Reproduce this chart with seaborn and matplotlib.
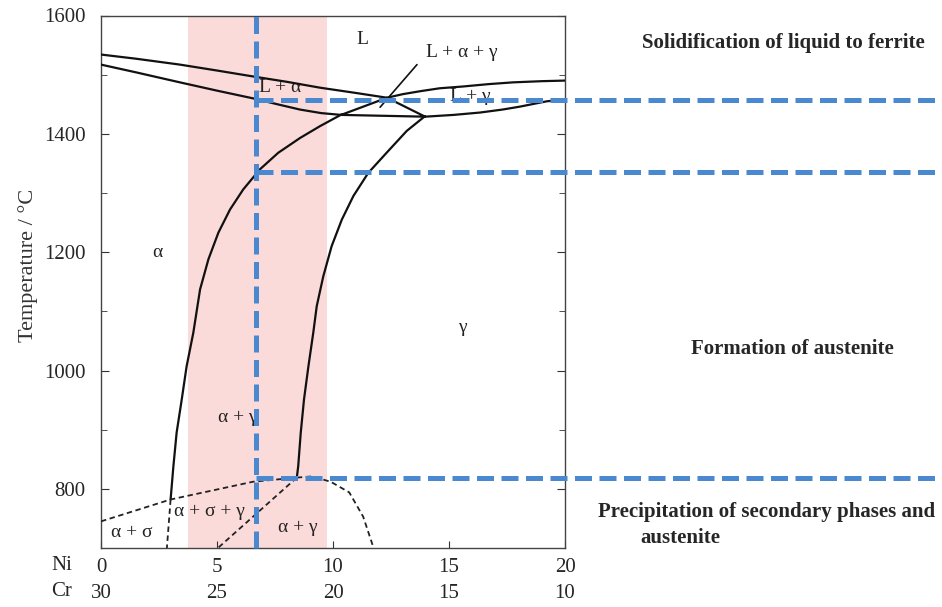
import matplotlib
matplotlib.use("Agg")
import matplotlib.pyplot as plt
import seaborn as sns
import pandas as pd

sns.set_style("ticks")
plt.rcParams['font.family'] = ['Liberation Serif', 'DejaVu Serif']

# ---------------- data (Ni wt%, Temperature degC) ----------------
ni_ticks = [0, 5, 10, 15, 20]
cr_ticks = [30, 25, 20, 15, 10]
y_ticks = [800, 1000, 1200, 1400, 1600]

# liquidus of alpha
liq_a_ni = [0.0, 1.5, 3.4, 5.0, 6.55, 8.0, 9.44, 11.0, 12.33]
liq_a_t = [1534, 1527, 1517, 1507, 1497, 1488, 1478, 1469, 1461]
# solidus of alpha
sol_a_ni = [0.0, 1.5, 3.4, 5.0, 6.55, 7.6, 8.58, 9.5, 10.35]
sol_a_t = [1517, 1504, 1487, 1473, 1460, 1450, 1441, 1435, 1432]
# liquidus of gamma
liq_g_ni = [12.33, 13.0, 13.75, 14.6, 15.6, 16.7, 17.76, 19.0, 20.0]
liq_g_t = [1461, 1467, 1472, 1477, 1480, 1484, 1487, 1489, 1490]
# solidus of gamma
sol_g_ni = [13.97, 15.2, 16.34, 17.3, 18.06, 18.7, 19.22, 20.0]
sol_g_t = [1429, 1432, 1436, 1441, 1446, 1451, 1455, 1458]
# three-phase triangle L+alpha+gamma
tri_ni = [10.35, 12.33, 13.97, 10.35]
tri_t = [1432, 1461, 1429, 1432]
# alpha / alpha+gamma boundary
solv_a_ni = [10.38, 9.44, 8.58, 7.64, 6.85, 6.13, 5.56, 5.06, 4.63, 4.27,
             3.98, 3.69, 3.48, 3.26, 3.12, 3.00]
solv_a_t = [1433, 1413, 1393, 1368, 1340, 1306, 1272, 1233, 1188, 1137,
            1064, 1007, 951, 895, 838, 782]
# gamma / alpha+gamma boundary
solv_g_ni = [13.97, 13.18, 12.31, 11.52, 10.88, 10.38, 9.94, 9.58, 9.30, 9.15,
             8.94, 8.75, 8.61, 8.50, 8.44]
solv_g_t = [1430, 1405, 1368, 1334, 1295, 1255, 1210, 1159, 1109, 1064,
            1007, 951, 895, 838, 819]
# sigma-related (dashed)
sig_top_ni = [0.0, 3.0, 6.55, 8.44]
sig_top_t = [745, 782, 812, 819]
sig_dome_ni = [8.44, 9.1, 9.9, 10.7, 11.3, 11.75]
sig_dome_t = [819, 821, 812, 794, 753, 700]
sig_left_ni = [3.0, 2.84]
sig_left_t = [782, 700]
sig_diag_ni = [8.44, 5.04]
sig_diag_t = [819, 700]

# highlighted composition window and process markers
band_ni = [3.76, 9.73]
marker_ni = 6.70
marker_t = [1458, 1335, 818]

region_labels = ["L", "L + α + γ", "L + α", "L + γ", "α", "γ",
                 "α + γ", "α + σ + γ", "α + σ", "α + γ"]
region_ni = [11.25, 15.56, 7.72, 15.9, 2.41, 15.56, 5.9, 4.66, 1.34, 8.49]
region_t = [1559, 1537, 1478, 1463, 1199, 1073, 921, 762, 726, 735]

stage_texts = ["Solidification of liquid to ferrite", "Formation of austenite",
               "Precipitation of secondary phases and", "austenite"]

# ---------------- figure ----------------
fig = plt.figure(figsize=(9.42, 6.07), dpi=100)
ax = fig.add_axes([101/942, 1 - 548/607, 464/942, 532.5/607])
ax.set_xlim(0, 20)
ax.set_ylim(700, 1600)

ax.axvspan(band_ni[0], band_ni[1], color="#fbdada", zorder=0, lw=0)

def curve(xs, ys, lw=1.6, z=3):
    df = pd.DataFrame({"x": xs, "y": ys})
    sns.lineplot(data=df, x="x", y="y", ax=ax, sort=False, estimator=None,
                 color="#111111", lw=lw, zorder=z)
    ax.lines[-1].set_solid_joinstyle("round")

for xs, ys in [(liq_a_ni, liq_a_t), (sol_a_ni, sol_a_t), (liq_g_ni, liq_g_t),
               (sol_g_ni, sol_g_t), (tri_ni, tri_t), (solv_a_ni, solv_a_t),
               (solv_g_ni, solv_g_t)]:
    curve(xs, ys)

for xs, ys in [(sig_top_ni, sig_top_t), (sig_dome_ni, sig_dome_t),
               (sig_left_ni, sig_left_t), (sig_diag_ni, sig_diag_t)]:
    df = pd.DataFrame({"x": xs, "y": ys})
    sns.lineplot(data=df, x="x", y="y", ax=ax, sort=False, estimator=None,
                 color="#222222", lw=1.3, zorder=3)
    ax.lines[-1].set_dashes((3, 2))

# leader line for L+alpha+gamma
curve([12.03, 13.62], [1445, 1517], lw=1.2)

# region labels
for lab, x, y in zip(region_labels, region_ni, region_t):
    ax.text(x, y, lab, ha="center", va="center", fontsize=14, color="#222222", zorder=2)

# blue dashed process markers
blue = "#4a89cf"
ax.plot([marker_ni, marker_ni], [700, 1600], color=blue, lw=3.6,
        dashes=(3.4, 1.5), zorder=5, clip_on=False)
for t in marker_t:
    ax.plot([marker_ni, 36.5], [t, t], color=blue, lw=3.6,
            dashes=(3.4, 1.5), zorder=5, clip_on=False)

# axes styling
ax.set_xticks(ni_ticks)
ax.set_xticklabels([f"{n}\n{c}" for n, c in zip(ni_ticks, cr_ticks)],
                   fontsize=15, linespacing=1.5)
ax.set_yticks(y_ticks)
ax.set_yticks(list(range(700, 1601, 100)), minor=True)
ax.set_yticklabels([str(v) for v in y_ticks], fontsize=15)
ax.tick_params(axis="both", which="both", direction="in", right=True,
               color="#333333")
ax.tick_params(axis="y", which="major", length=6, pad=11)
ax.tick_params(axis="y", which="minor", length=4)
ax.tick_params(axis="x", which="major", length=5, pad=7)
ax.set_xlabel("")
ax.set_ylabel("")
for s in ax.spines.values():
    s.set_color("#444444")
    s.set_linewidth(1.0)

fig.text(28/942, 1 - 265/607, "Temperature / °C", fontsize=16, color="#333333",
         rotation=90, ha="center", va="center")
fig.text(62/942, 1 - 566/607, "Ni", fontsize=15, ha="center", va="center")
fig.text(62/942, 1 - 592/607, "Cr", fontsize=15, ha="center", va="center")

fig.text(783/942, 1 - 43/607, stage_texts[0], fontsize=15, fontweight="bold",
         ha="center", va="center")
fig.text(792/942, 1 - 349/607, stage_texts[1], fontsize=15, fontweight="bold",
         ha="center", va="center")
fig.text(767/942, 1 - 512/607, stage_texts[2], fontsize=15, fontweight="bold",
         ha="center", va="center")
fig.text(640/942, 1 - 538/607, stage_texts[3], fontsize=15, fontweight="bold",
         ha="left", va="center")

fig.savefig("out.png", dpi=100)
